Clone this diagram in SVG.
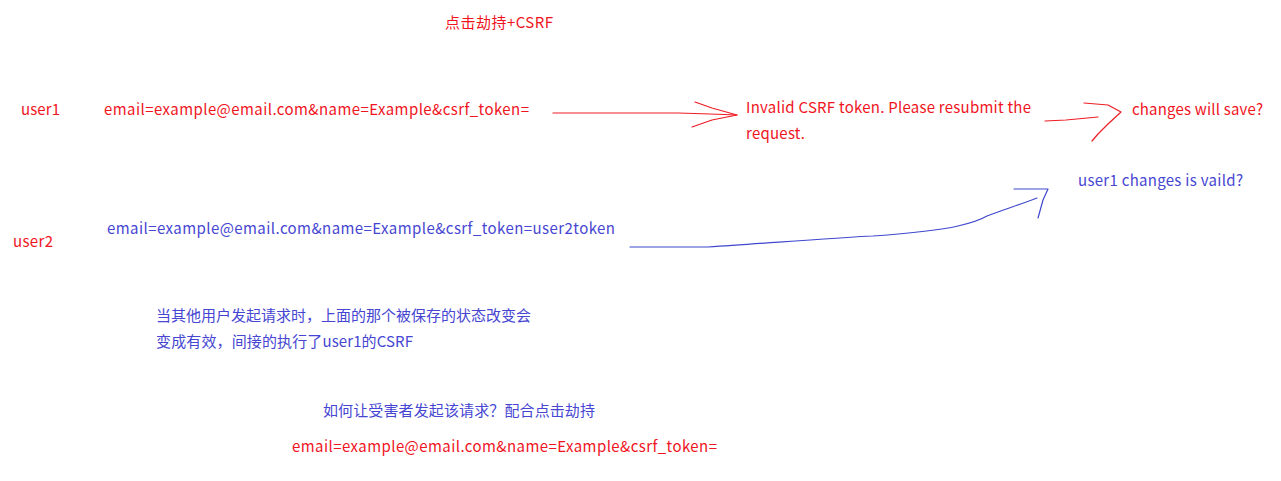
<svg xmlns="http://www.w3.org/2000/svg" width="1281" height="481" viewBox="0 0 1281 481">
<style>
text{font-family:"Noto Sans CJK SC","Noto Sans",sans-serif;font-size:15px}
.r{fill:#f0141e}
.b{fill:#4646d2}
.lr{fill:none;stroke:#ee1c24;stroke-width:1.2;stroke-linejoin:round;stroke-linecap:round}
.lb{fill:none;stroke:#3f48cc;stroke-width:1.2;stroke-linejoin:round;stroke-linecap:round}
</style>
<rect width="1281" height="481" fill="#fff"/>
<g id="title"><text class="r" x="445" y="28" textLength="108">点击劫持+CSRF</text></g>
<g id="user1"><text class="r" x="21" y="115" textLength="39">user1</text></g>
<g id="req1"><text class="r" x="104" y="115" textLength="425">email=example@email.com&amp;name=Example&amp;csrf_token=</text></g>
<g id="invalid"><text class="r" x="746" y="113" textLength="285">Invalid CSRF token. Please resubmit the</text><text class="r" x="746" y="139" textLength="59">request.</text></g>
<g id="save"><text class="r" x="1132" y="115" textLength="131">changes will save?</text></g>
<g id="valid"><text class="b" x="1078" y="186" textLength="165">user1 changes is vaild?</text></g>
<g id="user2"><text class="r" x="13" y="247" textLength="40">user2</text></g>
<g id="req2"><text class="b" x="107" y="234" textLength="508">email=example@email.com&amp;name=Example&amp;csrf_token=user2token</text></g>
<g id="note"><text class="b" x="156" y="321" textLength="375">当其他用户发起请求时，上面的那个被保存的状态改变会</text><text class="b" x="156" y="347" textLength="257">变成有效，间接的执行了user1的CSRF</text></g>
<g id="question"><text class="b" x="323" y="416" textLength="272">如何让受害者发起该请求？配合点击劫持</text></g>
<g id="req3"><text class="r" x="292" y="452" textLength="425">email=example@email.com&amp;name=Example&amp;csrf_token=</text></g>
<g id="connectors">
<path class="lr" d="M553 113 L678 113 L710 114 L737 115"/>
<path class="lr" d="M695 102 L712 108 L737 115 L712 120 L692 127"/>
<path class="lr" d="M1045 121 L1066 120 L1098 117"/>
<path class="lr" d="M1084 103 L1108 105 L1121 112 L1108 124 L1098 134 L1092 141"/>
<path class="lb" d="M630 247 L708 247 C770 243 830 238 873 236 C915 233 945 229 958 226 C975 222 982 219 987 216 C1005 209 1022 204 1037 198"/>
<path class="lb" d="M1014 189 L1048 189 L1043 200 L1038 218"/>
</g>
</svg>
